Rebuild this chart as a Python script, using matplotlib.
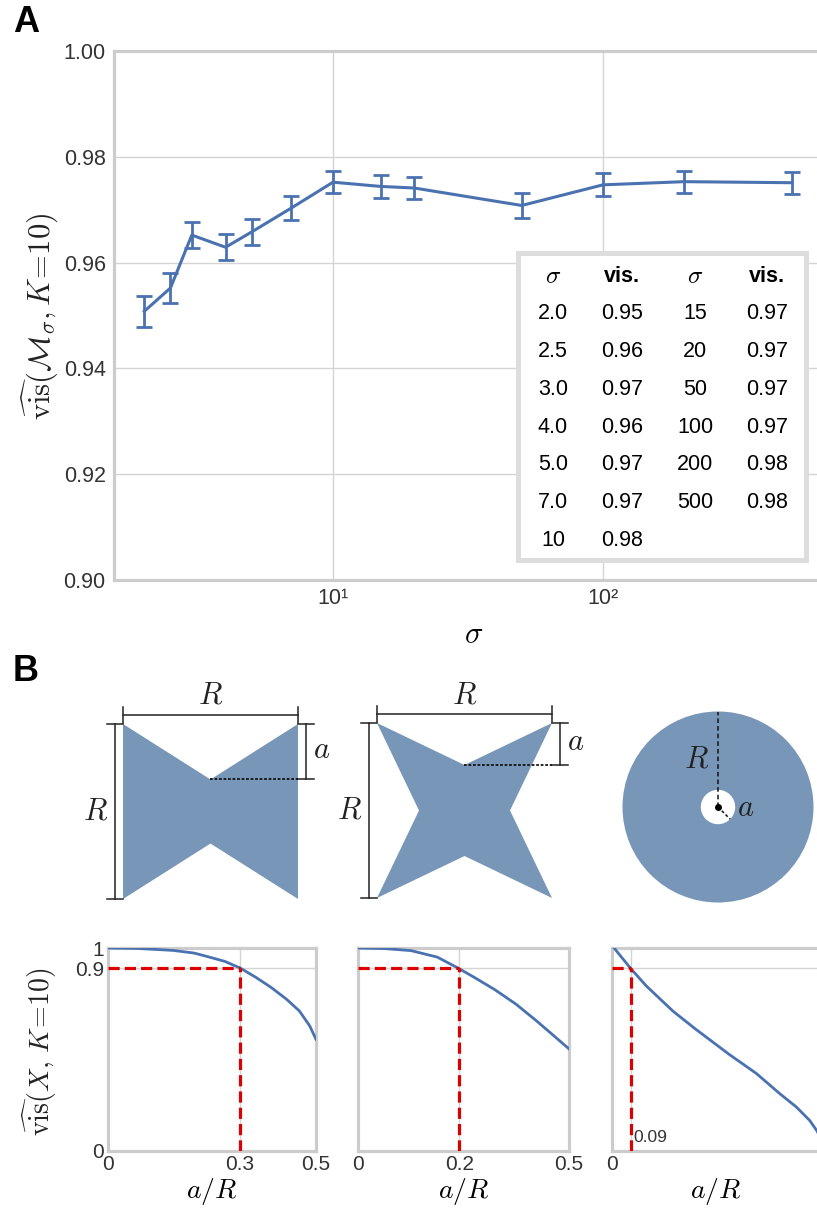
import numpy as np
import matplotlib.pyplot as plt
from matplotlib.patches import Polygon, Circle, Rectangle

plt.rcParams['font.family'] = ['Liberation Sans', 'DejaVu Sans']
plt.rcParams['mathtext.fontset'] = 'cm'

W, H = 817, 1211

# ---- panel A: visibility vs sigma ----
sigma = [2.0, 2.5, 3.0, 4.0, 5.0, 7.0, 10, 15, 20, 50, 100, 200, 500]
vis_mean = [0.9508, 0.9552, 0.9652, 0.9629, 0.9658, 0.9703, 0.9752,
            0.9744, 0.9741, 0.9708, 0.9747, 0.9753, 0.9751]
vis_err = [0.0029, 0.0028, 0.0025, 0.0025, 0.0025, 0.0023, 0.0021,
           0.0021, 0.0021, 0.0024, 0.0022, 0.0021, 0.0021]

table_sigma_1 = ['2.0', '2.5', '3.0', '4.0', '5.0', '7.0', '10']
table_vis_1 = ['0.95', '0.96', '0.97', '0.96', '0.97', '0.97', '0.98']
table_sigma_2 = ['15', '20', '50', '100', '200', '500']
table_vis_2 = ['0.97', '0.97', '0.97', '0.97', '0.98', '0.98']

# ---- panel B: visibility vs a/R for three shapes ----
bow_x = [0, 0.0705, 0.157, 0.207, 0.244, 0.281, 0.318, 0.355, 0.392, 0.429, 0.46, 0.485, 0.5]
bow_v = [1.0, 0.998, 0.988, 0.975, 0.955, 0.934, 0.901, 0.856, 0.806, 0.748, 0.690, 0.616, 0.55]
star_x = [0, 0.064, 0.126, 0.188, 0.238, 0.275, 0.324, 0.374, 0.423, 0.46, 0.5]
star_v = [1.0, 0.997, 0.987, 0.955, 0.9, 0.856, 0.795, 0.724, 0.641, 0.575, 0.503]
ann_x = [0.01, 0.09, 0.165, 0.293, 0.405, 0.566, 0.694, 0.806, 0.886, 0.95, 0.984, 1.0]
ann_v = [1.0, 0.899, 0.813, 0.689, 0.598, 0.474, 0.382, 0.283, 0.217, 0.151, 0.101, 0.07]

thresholds = [0.317, 0.24, 0.09]
threshold_labels = ['0.3', '0.2', '0.09']
x_max = [0.5, 0.5, 1.0]

blue = '#4a72b0'
shape_col = '#7796b8'
spine_col = '#cccccc'
grid_col = '#d4d4d4'
red = '#dd0000'


def rect(x0, y0, x1, y1):
    # pixel box (y down) -> figure fraction [l, b, w, h]
    return [x0 / W, 1 - y1 / H, (x1 - x0) / W, (y1 - y0) / H]


def fxy(x, y):
    return x / W, 1 - y / H


fig = plt.figure(figsize=(W / 100, H / 100), dpi=100)

# canvas axes for the shape sketches
sk = fig.add_axes([0, 0, 1, 1], zorder=-1)
sk.set_xlim(0, W)
sk.set_ylim(H, 0)
sk.axis('off')

# ---- A ----
ax = fig.add_axes(rect(114, 51, 833, 580))
ax.errorbar(sigma, vis_mean, yerr=vis_err, color=blue, lw=2.2,
            elinewidth=2, capsize=5.5, capthick=2, zorder=3)
ax.set_xscale('log')
ax.set_xlim(1.545, 711)
ax.set_ylim(0.90, 1.00)
ax.set_yticks(np.arange(0.90, 1.001, 0.02))
ax.set_yticklabels(['%.2f' % v for v in np.arange(0.90, 1.001, 0.02)])
ax.set_xticks([10, 100])
ax.set_xticklabels(['10\u00b9', '10\u00b2'])
ax.minorticks_off()
ax.tick_params(length=0, labelsize=15.5, colors='#333333', pad=6)
ax.grid(True, color=grid_col, lw=1)
for sp in ax.spines.values():
    sp.set_color(spine_col)
    sp.set_linewidth(2.3)
ax.set_xlabel(r'$\sigma$', fontsize=22, labelpad=8)
fig.text(40 / W, 1 - 316 / H, r'$\widehat{\mathrm{vis}}(\mathcal{M}_\sigma, K\!=\!10)$',
         rotation=90, fontsize=22, ha='center', va='center', color='#222222')

# table inset
tb = Rectangle(fxy(518, 560), (806 - 518) / W, (560 - 253) / H, transform=fig.transFigure,
               facecolor='white', edgecolor='#dddddd', lw=3.6, zorder=5)
fig.add_artist(tb)
col_x = [553, 622, 695, 767]
row_y0, row_dy = 276, 37.8
fig.text(*fxy(col_x[0], row_y0), r'$\sigma$', fontsize=18, ha='center', va='center', zorder=6)
fig.text(*fxy(col_x[1], row_y0), 'vis.', fontsize=15.5, fontweight='bold', ha='center', va='center', zorder=6)
fig.text(*fxy(col_x[2], row_y0), r'$\sigma$', fontsize=18, ha='center', va='center', zorder=6)
fig.text(*fxy(col_x[3], row_y0), 'vis.', fontsize=15.5, fontweight='bold', ha='center', va='center', zorder=6)
for i, (s, v) in enumerate(zip(table_sigma_1, table_vis_1)):
    y = row_y0 + row_dy * (i + 1)
    fig.text(*fxy(col_x[0], y), s, fontsize=15.5, ha='center', va='center', zorder=6)
    fig.text(*fxy(col_x[1], y), v, fontsize=15.5, ha='center', va='center', zorder=6)
for i, (s, v) in enumerate(zip(table_sigma_2, table_vis_2)):
    y = row_y0 + row_dy * (i + 1)
    fig.text(*fxy(col_x[2], y), s, fontsize=15.5, ha='center', va='center', zorder=6)
    fig.text(*fxy(col_x[3], y), v, fontsize=15.5, ha='center', va='center', zorder=6)

fig.text(*fxy(26, 22), 'A', fontsize=26, fontweight='bold', ha='center', va='center')
fig.text(*fxy(26, 672), 'B', fontsize=26, fontweight='bold', ha='center', va='center')

# ---- B sketches ----
lab_kw = dict(fontsize=22, ha='center', va='center', color='#222222')
dim_kw = dict(color='#222222', lw=1.1)


def dims(x0, y0, s, a):
    # R across the top
    sk.plot([x0, x0 + s], [y0 - 9, y0 - 9], **dim_kw)
    for xx in (x0, x0 + s):
        sk.plot([xx, xx], [y0 - 17, y0 - 1], **dim_kw)
    sk.text(x0 + s / 2, y0 - 28, r'$R$', **lab_kw)
    # R on the left
    sk.plot([x0 - 8, x0 - 8], [y0, y0 + s], **dim_kw)
    for yy in (y0, y0 + s):
        sk.plot([x0 - 16, x0], [yy, yy], **dim_kw)
    sk.text(x0 - 27, y0 + s / 2, r'$R$', **lab_kw)
    # a on the right
    sk.plot([x0 + s + 8, x0 + s + 8], [y0, y0 + a], **dim_kw)
    for yy in (y0, y0 + a):
        sk.plot([x0 + s, x0 + s + 16], [yy, yy], **dim_kw)
    sk.text(x0 + s + 24, y0 + a / 2 - 2, r'$a$', **lab_kw)
    sk.plot([x0 + s / 2, x0 + s], [y0 + a, y0 + a], color='#111111', lw=1.3, ls=(0, (1.5, 1)))


side = 175
x0, y0 = 123, 724
a = thresholds[0] * side
sk.add_patch(Polygon([(x0, y0), (x0 + side / 2, y0 + a), (x0 + side, y0), (x0 + side, y0 + side),
                      (x0 + side / 2, y0 + side - a), (x0, y0 + side)], closed=True,
                     facecolor=shape_col, edgecolor='none'))
dims(x0, y0, side, a)

x0, y0 = 377, 723
a = thresholds[1] * side
sk.add_patch(Polygon([(x0, y0), (x0 + side / 2, y0 + a), (x0 + side, y0), (x0 + side - a, y0 + side / 2),
                      (x0 + side, y0 + side), (x0 + side / 2, y0 + side - a), (x0, y0 + side),
                      (x0 + a, y0 + side / 2)], closed=True, facecolor=shape_col, edgecolor='none'))
dims(x0, y0, side, a)

cx, cy, r = 718, 807, 95.5
r_in = 2 * thresholds[2] * r
sk.add_patch(Circle((cx, cy), r, facecolor=shape_col, edgecolor='none'))
sk.add_patch(Circle((cx, cy), r_in, facecolor='white', edgecolor='none'))
sk.plot([cx, cx], [cy, cy - r], color='#111111', lw=1.1, ls=(0, (3, 2)))
sk.plot([cx, cx + r_in * np.cos(np.pi / 4)], [cy, cy + r_in * np.sin(np.pi / 4)],
        color='#111111', lw=1.1, ls=(0, (2, 1.5)))
sk.plot([cx], [cy], 'o', color='black', ms=4)
sk.text(cx - 21, cy - 47, r'$R$', **lab_kw)
sk.text(cx + 28, cy + 1, r'$a$', **lab_kw)

# ---- B curves ----
boxes = [(108, 948, 316, 1151), (358, 948, 569, 1151), (612, 948, 820, 1151)]
curves = [(bow_x, bow_v), (star_x, star_v), (ann_x, ann_v)]
narrow = ['Liberation Sans Narrow', 'Liberation Sans', 'DejaVu Sans']
for i, (box, (cxs, cvs)) in enumerate(zip(boxes, curves)):
    b = fig.add_axes(rect(*box))
    thr = thresholds[i]
    b.plot(cxs, cvs, color=blue, lw=2, zorder=3)
    b.plot([0, thr], [0.9, 0.9], color=red, lw=2.3, ls=(0, (3.5, 1.6)), zorder=4)
    b.plot([thr, thr], [0, 0.9], color=red, lw=2.3, ls=(0, (3.5, 1.6)), zorder=4)
    b.set_xlim(0, x_max[i])
    b.set_ylim(0, 1)
    if i < 2:
        b.set_xticks([0, thr, x_max[i]])
        b.set_xticklabels(['0', threshold_labels[i], '0.5'], family=narrow)
    else:
        b.set_xticks([0, thr])
        b.set_xticklabels(['0', ''], family=narrow)
        b.text(thr + 0.012, 0.065, threshold_labels[i], fontsize=12.5, ha='left', va='center',
               color='#333333')
    b.set_yticks([0, 0.9, 1])
    if i == 0:
        b.set_yticklabels(['0', '0.9', '1'], family=narrow)
    else:
        b.set_yticklabels([])
    b.tick_params(length=0, labelsize=15, colors='#333333', pad=3)
    b.grid(True, color=grid_col, lw=1)
    for sp in b.spines.values():
        sp.set_color(spine_col)
        sp.set_linewidth(2.3)
    b.set_xlabel(r'$a/R$', fontsize=20, labelpad=1)

fig.text(40 / W, 1 - 1052 / H, r'$\widehat{\mathrm{vis}}(X,\, K\!=\!10)$',
         rotation=90, fontsize=20, ha='center', va='center', color='#222222')

fig.savefig('out.png', dpi=100)
